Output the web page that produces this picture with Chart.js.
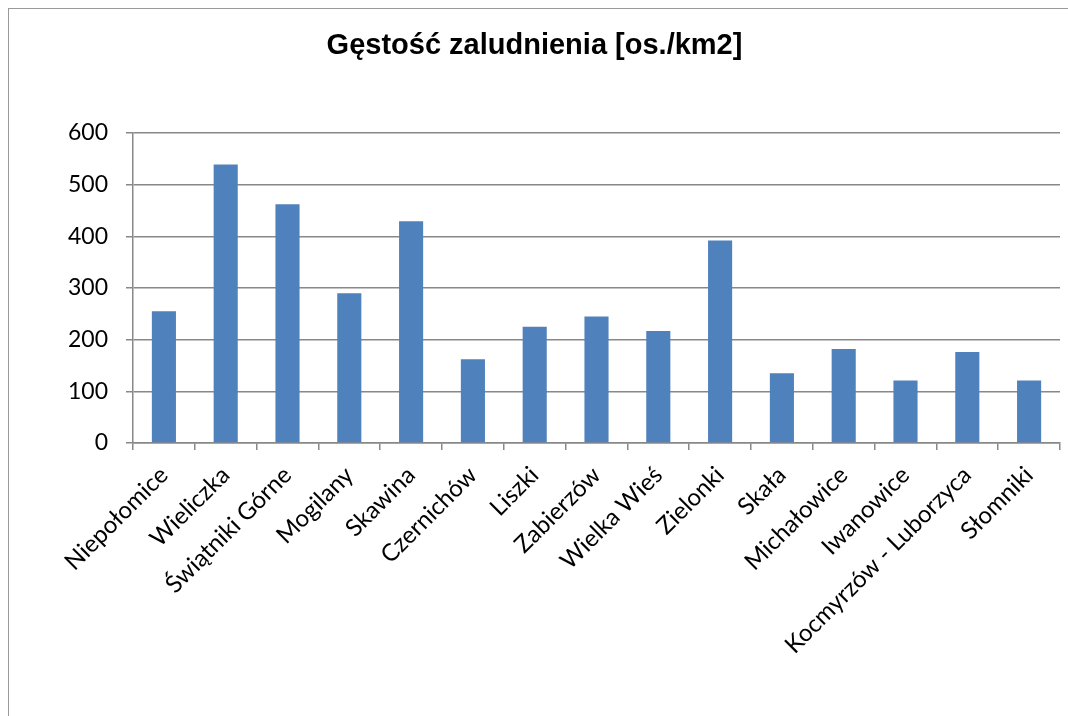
<!DOCTYPE html>
<html>
<head>
<meta charset="utf-8">
<script src="https://cdn.jsdelivr.net/npm/chart.js@4/dist/chart.umd.min.js"></script>
<style>
  html, body { margin: 0; padding: 0; background: #fff; overflow: hidden; }
  #frame {
    position: absolute; left: 8px; top: 8px;
    width: 1100px; height: 740px;
    border-left: 1px solid #9a9a9a;
    border-top: 1px solid #9a9a9a;
  }
  #chart { display: block; }
</style>
</head>
<body>
<div id="frame">
  <canvas id="chart" width="1064" height="708"></canvas>
</div>
<script>
// gminy i gęstość zaludnienia
const gminy = [
  'Niepołomice', 'Wieliczka', 'Świątniki Górne', 'Mogilany', 'Skawina',
  'Czernichów', 'Liszki', 'Zabierzów', 'Wielka Wieś', 'Zielonki',
  'Skała', 'Michałowice', 'Iwanowice', 'Kocmyrzów - Luborzyca', 'Słomniki'
];
const gestosc = [255, 539, 462, 290, 429, 162, 225, 245, 217, 392, 135, 182, 121, 176, 121];
const yMin = 0;
const yMax = 600;
const yStep = 100;

const gridColor = '#888888';

new Chart(document.getElementById('chart').getContext('2d'), {
  type: 'bar',
  data: {
    labels: gminy,
    datasets: [{
      label: 'Gęstość zaludnienia',
      data: gestosc,
      backgroundColor: '#4F81BD',
      borderWidth: 0,
      barPercentage: 0.39,
      categoryPercentage: 1
    }]
  },
  options: {
    responsive: false,
    animation: false,
    layout: { padding: { left: 0, right: 13, top: 0, bottom: 0 } },
    plugins: {
      legend: { display: false },
      tooltip: { enabled: false },
      title: {
        display: true,
        text: 'Gęstość zaludnienia [os./km2]',
        color: '#000',
        font: { family: '"Liberation Sans", Arial, sans-serif', size: 29, weight: 'bold', lineHeight: 1.2 },
        padding: { top: 19.6, bottom: 69.6 }
      }
    },
    scales: {
      x: {
        offset: true,
        grid: {
          offset: true,
          drawOnChartArea: false,
          drawTicks: true,
          tickLength: 7,
          color: gridColor,
          lineWidth: 1.5
        },
        border: { display: true, color: gridColor, width: 1.5 },
        ticks: {
          autoSkip: false,
          minRotation: 45,
          maxRotation: 45,
          padding: 11,
          color: '#000',
          font: { family: 'Lato, sans-serif', size: 24 }
        },
        afterFit: (scale) => { scale.height = 274; }
      },
      y: {
        min: yMin,
        max: yMax,
        grid: {
          color: gridColor,
          lineWidth: 1.5,
          drawTicks: true,
          tickLength: 7
        },
        border: { display: true, color: gridColor, width: 1.5 },
        ticks: {
          stepSize: yStep,
          padding: 18,
          color: '#000',
          font: { family: 'Lato, sans-serif', size: 23 }
        },
        afterFit: (scale) => { scale.width = 124; }
      }
    }
  }
});
</script>
</body>
</html>
